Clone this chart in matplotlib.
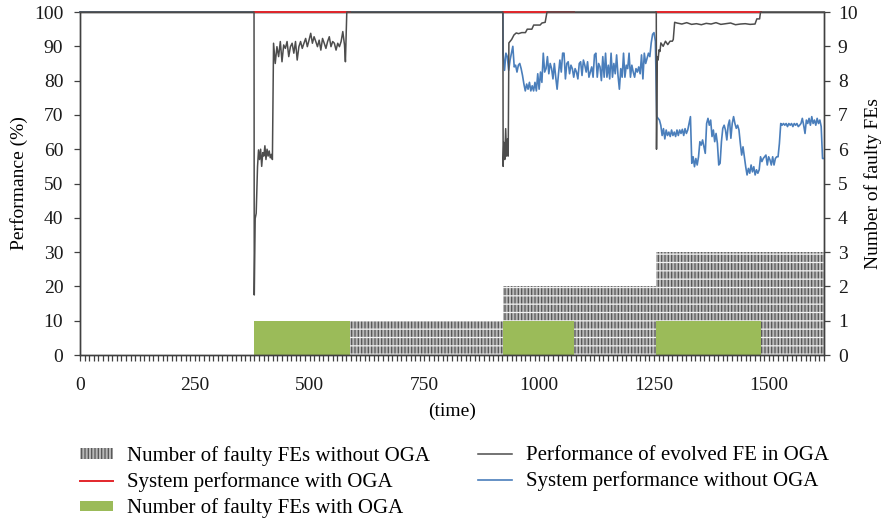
import numpy as np
import matplotlib
matplotlib.use("Agg")
import matplotlib.pyplot as plt
from matplotlib.lines import Line2D
from matplotlib.patches import Patch
from matplotlib.ticker import MultipleLocator

plt.rcParams['font.family'] = ['Liberation Serif', 'DejaVu Serif']
plt.rcParams['hatch.linewidth'] = 0.9

t_end = 1620

# number of faulty FEs without OGA (right axis)
fault_start = [379, 921, 1255]
fault_end = [921, 1255, 1620]
fault_count = [1, 2, 3]

# number of faulty FEs with OGA (right axis)
oga_start = [379, 921, 1255]
oga_end = [589, 1075, 1483]
oga_count = [1, 1, 1]

# system performance with OGA, visible during the evolution periods
red_start = [379, 921, 1255]
red_end = [589, 1075, 1483]
red_value = 100

# performance of evolved FE in OGA
evo_t_a = [0, 379, 379.5, 381.5, 383.7, 386.6, 388.8]
evo_v_a = [100, 100, 17.5, 39.8, 41.3, 54.9, 59.8]
evo_low1 = [57, 60, 55, 59, 58, 61, 57, 60, 58, 59.5, 57.5, 58.5, 57]          # t 391..419
evo_high1 = [90.9, 85, 89.9, 87, 91.4, 85.5, 90.4, 89.4, 91.4, 87, 89.9, 90.9,
             88, 91.4, 86, 89.9, 91.4, 89.4, 90.9, 92.3, 89.9, 91.8, 93.8, 90.9,
             92.8, 91.4, 89.9, 91.8, 88.9, 92.3, 90.9, 89.4, 91.4, 92.8, 89.9,
             91.4, 90.9, 88.9, 90.9, 89.9, 91.4, 94.3, 90.4]                      # t 421.5..576
evo_t_b = [578, 581, 921, 921.5, 923, 925, 927, 929, 931, 932.5, 934, 940, 945,
           950, 955, 962, 970, 974, 984, 988, 1002, 1006, 1013, 1017,
           1255, 1255.5, 1257, 1259, 1261, 1263, 1265, 1270, 1275, 1280, 1285,
           1290, 1292, 1295]
evo_v_b = [85.5, 100, 100, 55, 62, 57, 66, 58, 63, 58, 91, 92, 93.3,
           93.9, 93.7, 94, 94, 95, 95, 96.2, 96.2, 96.8, 97, 100,
           100, 60, 87, 86, 89, 88.5, 91, 90, 91.5, 90.5, 91.5,
           91.5, 92, 97]
evo_plateau3 = [96.8, 96.5, 96.9, 96.4, 96.6, 96.3, 96.7, 96.5, 96.9, 96.4,
                96.6, 96.8, 96.3, 96.5, 96.6, 96.4, 96.5]                          # t 1300..1470
evo_t_c = [1474, 1480, 1482, 1620]
evo_v_c = [98, 98, 100, 100]

# system performance without OGA
sys_t_a = [0, 921]
sys_v_a = [100, 100]
sys_p2 = [88, 83, 88, 87, 83, 86, 88, 90, 84, 84.5, 82.5, 84.5, 85, 83.5, 81.5,
          79, 77, 79, 77.5, 79.5, 77, 78.5, 77, 79.5, 77, 82, 77.5, 82.5, 79.5,
          88, 82.5, 83.5, 87, 82, 85, 83.5, 80.5, 85, 81, 77.5, 82, 86, 82.5, 88,
          88, 80.5, 85, 85.5, 82, 84.5, 83.5, 81, 83.5, 82.5, 80.5, 85, 85.5,
          81.5, 86, 84.5, 82.5, 85.5, 81, 82.5, 84, 81, 87.5, 88, 81, 85, 84, 80,
          87, 81, 88, 81, 84.5, 80.5, 88, 81, 85, 82, 87.5, 81.5, 77.5, 83.5, 81,
          88, 81, 84.5, 83.5, 88, 81, 84.5, 82.5, 81, 83.5, 82.5, 84, 82, 87.5,
          80.5, 88, 85, 86.5, 88, 87, 91, 93.5, 94, 91.5]                         # t 921.5..1253
sys_p3 = [69.5, 69, 68.5, 67, 64, 66, 63, 65.6, 64, 65, 63.7, 65.6, 64, 65, 63.7,
          65.6, 64, 65.6, 64.6, 65.8, 64, 66, 64.6, 65.6, 67.5, 69.5, 55.9, 57.8,
          54.9, 57.3, 55.4, 57.8, 62.2, 61.2, 62.7, 60.7, 58.8, 67.5, 69, 67,
          68.5, 63.7, 65.6, 62.2, 64.6, 61.7, 55.4, 55.9, 62.2, 66.1, 67, 65.6,
          62.7, 67, 68.5, 63.2, 67.5, 69.5, 67.5, 66.1, 67, 65.6, 61.7, 58.3,
          60.7, 57.8, 54.9, 52.5, 54.4, 53, 55.4, 53.4, 54.9, 52.5, 54, 53, 54,
          57.8, 56.4, 57.3, 57.8, 58.3, 55.4, 57.8, 56.9, 55.4, 57.8, 55.4, 57.3,
          57.8, 57.8, 61.7, 67.5, 67, 67.5, 67, 67.5, 66.6, 67.5, 67, 67.5, 66.6,
          67.5, 67, 67.5, 66.6, 67, 67.5, 69, 67, 64.6, 68.5, 67.5, 69, 67, 69.5,
          67.5, 68.5, 67, 69, 67.5, 68.5, 66.6, 57.3, 57.3]                        # t 1256..1620

# assemble the series
evo_t = np.concatenate([evo_t_a, np.linspace(391, 419, len(evo_low1)),
                        np.linspace(421.5, 576, len(evo_high1)), evo_t_b,
                        np.linspace(1300, 1470, len(evo_plateau3)), evo_t_c])
evo_v = np.concatenate([evo_v_a, evo_low1, evo_high1, evo_v_b, evo_plateau3, evo_v_c])
sys_t = np.concatenate([sys_t_a, np.linspace(921.5, 1253, len(sys_p2)),
                        np.linspace(1256, 1620, len(sys_p3))])
sys_v = np.concatenate([sys_v_a, sys_p2, sys_p3])

c_red = '#e3262b'
c_gray = '#4d4d4d'
c_blue = '#4a7ebb'
c_green = '#9bbb59'
c_axis = '#404040'
hatch_face = '#b8b8b8'
hatch_dark = '#555555'

fig = plt.figure(figsize=(8.84, 5.23), dpi=100)
ax = fig.add_axes([0.0905, 0.3212, 0.8415, 0.6558])
ax2 = ax.twinx()
ax.set_zorder(ax2.get_zorder() + 1)
ax.patch.set_visible(False)

# faulty FE bars on the right axis
w = np.subtract(fault_end, fault_start)
ax2.bar(fault_start, fault_count, width=w, align='edge', color=hatch_face,
        edgecolor=hatch_dark, hatch='|||||', linewidth=0)
ax2.bar(fault_start, fault_count, width=w, align='edge', color='none',
        edgecolor='#f2f2f2', hatch='--', linewidth=0)
ax2.bar(oga_start, oga_count, width=np.subtract(oga_end, oga_start), align='edge',
        color=c_green, linewidth=0)

# performance lines on the left axis
ax.plot(sys_t, sys_v, color=c_blue, lw=1.2, zorder=2, clip_on=False)
for s, e in zip(red_start, red_end):
    ax.plot([s, e], [red_value, red_value], color=c_red, lw=1.4, zorder=3, clip_on=False)
ax.plot(evo_t, evo_v, color=c_gray, lw=1.1, zorder=4, clip_on=False)

ax.set_xlim(0, t_end)
ax.set_ylim(0, 100)
ax2.set_ylim(0, 10)
ax.xaxis.set_major_locator(MultipleLocator(250))
ax.xaxis.set_minor_locator(MultipleLocator(10))
ax.yaxis.set_major_locator(MultipleLocator(10))
ax2.yaxis.set_major_locator(MultipleLocator(1))

for a in (ax, ax2):
    for sp in a.spines.values():
        sp.set_color(c_axis)
        sp.set_linewidth(1.0)
    a.tick_params(which='both', direction='out', length=4, width=0.9,
                  color=c_axis, labelsize=14, labelcolor='#1a1a1a')
ax.tick_params(axis='y', pad=8)
ax.tick_params(axis='x', which='major', pad=12)
ax2.tick_params(axis='y', pad=6)

ax.set_xlabel('(time)', fontsize=14, labelpad=6)
ax.set_ylabel('Performance (%)', fontsize=14, labelpad=4)
ax2.set_ylabel('Number of faulty FEs', fontsize=14, labelpad=5)

# legend in two blocks below the chart
h_hatch = Patch(facecolor=hatch_face, edgecolor=hatch_dark, hatch='|||||', linewidth=0)
h_green = Patch(facecolor=c_green, linewidth=0)
leg_kw = dict(loc='upper left', frameon=False, fontsize=15, handlelength=1.6,
              handleheight=0.4, handletextpad=0.67, labelspacing=0.3,
              borderpad=0, borderaxespad=0)
fig.legend([h_hatch, Line2D([], [], color=c_red, lw=1.4), h_green],
           ['Number of faulty FEs without OGA', 'System performance with OGA',
            'Number of faulty FEs with OGA'],
           bbox_to_anchor=(0.0905, 0.147), **leg_kw)
fig.legend([Line2D([], [], color=c_gray, lw=1.1), Line2D([], [], color=c_blue, lw=1.2)],
           ['Performance of evolved FE in OGA', 'System performance without OGA'],
           bbox_to_anchor=(0.541, 0.147), **leg_kw)

fig.savefig('out.png', dpi=100)
